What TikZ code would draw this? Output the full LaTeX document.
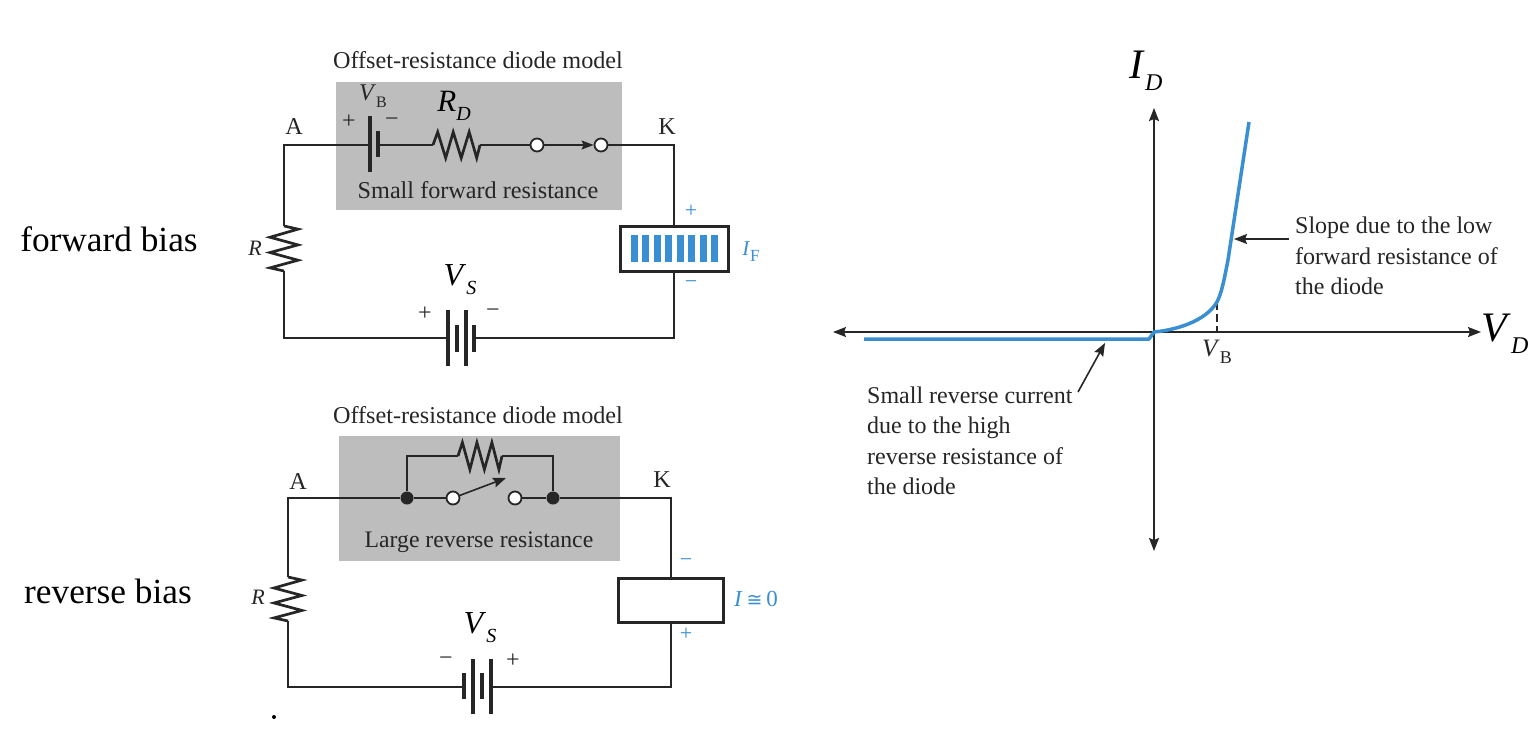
\documentclass[tikz,border=0pt]{standalone}
\usepackage{fontspec}
\setmainfont{Liberation Serif}
\newfontfamily\symfont{DejaVu Sans}
\usetikzlibrary{arrows.meta,positioning}
\definecolor{ink}{HTML}{262626}
\definecolor{panel}{HTML}{BDBDBD}
\definecolor{curve}{HTML}{3A8FD2}
\newcommand{\txtsize}[1]{\fontsize{#1}{#1}\selectfont}
\newcommand{\subbed}[4]{\txtsize{#1}\textit{#3}\raisebox{-.28em}{\txtsize{#2}#4}}
\newcommand{\zigH}[3]{\draw[zigline] (#1) -- ++({.1*#2},{-#3}) -- ++({.17*#2},{2*#3}) -- ++({.16*#2},{-2*#3}) -- ++({.17*#2},{2*#3}) -- ++({.17*#2},{-2*#3}) -- ++({.16*#2},{2*#3}) -- ++({.07*#2},{-#3});}
\newcommand{\zigV}[3]{\draw[zigline] (#1) -- ++({#3},{.07*#2}) -- ++({-2*#3},{.18*#2}) -- ++({2*#3},{.17*#2}) -- ++({-2*#3},{.17*#2}) -- ++({2*#3},{.17*#2}) -- ++({-2*#3},{.17*#2}) -- ++({#3},{.07*#2});}
\tikzset{
  wire/.style={draw=ink,line width=2.2pt,line join=miter},
  zigline/.style={draw=ink,line width=2.7pt,line join=miter},
  plate/.style={draw=ink,line width=3.6pt},
  axisline/.style={draw=ink,line width=1.6pt},
  shaft/.style={draw=ink,line width=1.6pt,-{Stealth[length=13pt,width=10pt,inset=2pt]}},
  panelbox/.style={fill=panel,draw=none,inner sep=0pt},
  meter/.style={draw=ink,line width=3pt,fill=white,inner sep=0pt},
  term/.style={circle,draw=ink,fill=white,line width=1.8pt,minimum size=13pt,inner sep=0pt},
  junction/.style={circle,fill=ink,minimum size=13pt,inner sep=0pt},
  lab/.style={text=ink,inner sep=0pt,font=\txtsize{24.2}},
  multi/.style={lab,align=left,anchor=west,font=\fontsize{24}{30.5}\selectfont},
  sign/.style={text=ink,inner sep=0pt,font=\txtsize{24}},
  bluesign/.style={text=curve,inner sep=0pt,font=\txtsize{22}},
  sidelab/.style={text=black,inner sep=0pt,font=\txtsize{35.3}},
}
\begin{document}
\begin{tikzpicture}[x=1pt,y=-1pt]
\useasboundingbox (0,0) rectangle (1536,744);
\fill[white] (0,0) rectangle (1536,744);

% side labels
\node[sidelab] (fb) at (109,239) {forward bias};
\node[sidelab] (rb) at (108,591) {reverse bias};

% ---------- top circuit ----------
\node[panelbox,minimum width=286pt,minimum height=128pt] (p1) at (479,145.5) {};
\node[lab] (t1) at (478,60) {Offset-resistance diode model};
\node[lab] (t1b) at (478,190) {Small forward resistance};
\coordinate (a1) at (284,145);
\coordinate (k1) at (674,145);
\coordinate (b1) at (284,338);
\coordinate (d1) at (674,338);
\coordinate (vbp) at (370,145);
\coordinate (vbn) at (378,145);
\coordinate (rd1) at (433,145);
\coordinate (rd2) at (480,145);
\node[term] (s1) at (537,145) {};
\node[term] (s2) at (601,145) {};
\node[meter,minimum width=108pt,minimum height=45pt] (m1) at (674,248.5) {};
\coordinate (rl1) at (284,226);
\coordinate (rl2) at (284,271);
\coordinate (vsp) at (448,338);
\coordinate (vsn) at (474,338);
\draw[wire] (rl1) -- (a1) -- (vbp);
\draw[wire] (vbn) -- (rd1);
\zigH{rd1}{47}{13}
\draw[wire] (rd2) -- (s1);
\draw[draw=ink,line width=1.6pt,-{Stealth[length=12pt,width=9pt,inset=2pt]}] (s1) -- (s2);
\draw[wire] (s2) -- (k1) -- (m1.north);
\draw[wire] (m1.south) -- (d1) -- (vsn);
\draw[wire] (vsp) -- (b1) -- (rl2);
\zigV{rl1}{45}{14}
\draw[plate] (370,116) -- (370,172);
\draw[plate] (378,131) -- (378,157);
\draw[plate] (448,310) -- (448,366);
\draw[plate] (457,325) -- (457,352);
\draw[plate] (466,310) -- (466,366);
\draw[plate] (474,325) -- (474,352);
\foreach \i in {0,...,7} \fill[curve] ({631+11.43*\i},235) rectangle ++(7,27);
\node[lab] (A1) at (294,127) {A};
\node[lab] (K1) at (667,127) {K};
\node[sign] (vbplus) at (349,122) {+};
\node[sign] (vbminus) at (392,122) {−};
\node[text=ink,inner sep=0pt] (VB1) at (373,96) {\subbed{24}{16}{V}{B}};
\node[text=black,inner sep=0pt] (RD) at (454,106) {\subbed{31}{20}{R}{\textit{D}}};
\node[text=black,inner sep=0pt] (VS1) at (460,280) {\subbed{32}{20}{V}{\textit{S}}};
\node[text=ink,inner sep=0pt,font=\txtsize{22},anchor=east] (Rl1) at (262,248) {\textit{R}};
\node[sign] (vsplus) at (425,314) {+};
\node[sign] (vsminus) at (493,313) {−};
\node[bluesign] (mplus) at (691,211) {+};
\node[bluesign] (mminus) at (691,285) {−};
\node[text=curve,inner sep=0pt] (IF) at (751,252) {\subbed{21}{17}{I}{F}};

% ---------- bottom circuit ----------
\node[panelbox,minimum width=281pt,minimum height=125pt] (p2) at (479.5,498.5) {};
\node[lab] (t2) at (478,415) {Offset-resistance diode model};
\node[lab,font=\txtsize{23.7}] (t2b) at (479,542) {Large reverse resistance};
\coordinate (a2) at (288,498);
\coordinate (k2) at (671,498);
\coordinate (b2) at (288,687);
\coordinate (d2) at (671,687);
\node[junction] (j1) at (407,498) {};
\node[junction] (j2) at (553,498) {};
\coordinate (up1) at (407,456);
\coordinate (up2) at (553,456);
\coordinate (rp1) at (458,456);
\coordinate (rp2) at (502,456);
\node[term] (s3) at (453,498) {};
\node[term] (s4) at (515,498) {};
\coordinate (s3tip) at (506,478);
\node[meter,minimum width=105pt,minimum height=44pt] (m2) at (671,600) {};
\coordinate (rb1) at (288,577);
\coordinate (rb2) at (288,621);
\coordinate (vrn) at (464,687);
\coordinate (vrp) at (491,687);
\draw[wire] (rb1) -- (a2) -- (j1);
\draw[wire] (j1) -- (s3);
\draw[wire] (s4) -- (j2);
\draw[wire] (j2) -- (k2) -- (m2.north);
\draw[wire] (m2.south) -- (d2) -- (vrp);
\draw[wire] (vrn) -- (b2) -- (rb2);
\draw[wire] (j1) -- (up1) -- (rp1);
\draw[wire] (rp2) -- (up2) -- (j2);
\zigH{rp1}{44}{13.5}
\draw[shaft] (s3) -- (s3tip);
\zigV{rb1}{44}{14}
\draw[plate] (464,673) -- (464,699);
\draw[plate] (473,659) -- (473,714);
\draw[plate] (482,673) -- (482,699);
\draw[plate] (491,659) -- (491,714);
\node[lab] (A2) at (298,482) {A};
\node[lab] (K2) at (662,480) {K};
\node[text=black,inner sep=0pt] (VS2) at (480,628) {\subbed{32}{20}{V}{\textit{S}}};
\node[text=ink,inner sep=0pt,font=\txtsize{22},anchor=east] (Rl2) at (265,597) {\textit{R}};
\node[sign] (vrminus) at (446,661) {−};
\node[sign] (vrplus) at (513,661) {+};
\node[bluesign] (m2minus) at (686,563) {−};
\node[bluesign] (m2plus) at (686,634) {+};
\node[text=curve,inner sep=0pt,font=\txtsize{23}] (I0) at (756,599) {\textit{I}\,{\symfont\fontsize{19}{19}\selectfont ≅}\,0};
\fill[black] (274,717) circle (2pt);

% ---------- characteristic ----------
\coordinate (yt) at (1154,108);
\coordinate (yb) at (1154,551);
\coordinate (xl) at (833,332);
\coordinate (xr) at (1481,332);
\draw[axisline,{Stealth[length=13pt,width=10pt,inset=2pt]}-{Stealth[length=13pt,width=10pt,inset=2pt]}] (yb) -- (yt);
\draw[axisline,{Stealth[length=13pt,width=10pt,inset=2pt]}-{Stealth[length=13pt,width=10pt,inset=2pt]}] (xl) -- (xr);
\coordinate (vbt) at (1217,302);
\coordinate (vbb) at (1217,332);
\draw[draw=ink,line width=1.5pt,dash pattern=on 8pt off 4pt] (vbt) -- (vbb);
\draw[curve,line width=3.5pt,line join=round] (864,339) -- (1149,339) -- (1154,332)
  .. controls (1175,330) and (1205,322) .. (1217,302)
  .. controls (1222,292) and (1224,280) .. (1228,260)
  -- (1249,122);
\node[text=ink,inner sep=0pt] (VBa) at (1217,352) {\subbed{25}{18}{V}{B}};
\node[multi] (slope) at (1295,256) {Slope due to the low\\forward resistance of\\the diode};
\coordinate (sa) at (1234,239);
\coordinate (sb) at (1289,239);
\draw[shaft] (sb) -- (sa);
\node[multi] (small) at (867,441) {Small reverse current\\due to the high\\reverse resistance of\\the diode};
\coordinate (ra) at (1078,392);
\coordinate (rbb) at (1105,343);
\draw[shaft] (ra) -- (rbb);
\node[text=black,inner sep=0pt] (ID) at (1146,71) {\subbed{42}{24}{I}{\textit{D}}};
\node[text=black,inner sep=0pt] (VD) at (1505,334) {\subbed{42}{24}{V}{\textit{D}}};
\end{tikzpicture}
\end{document}
